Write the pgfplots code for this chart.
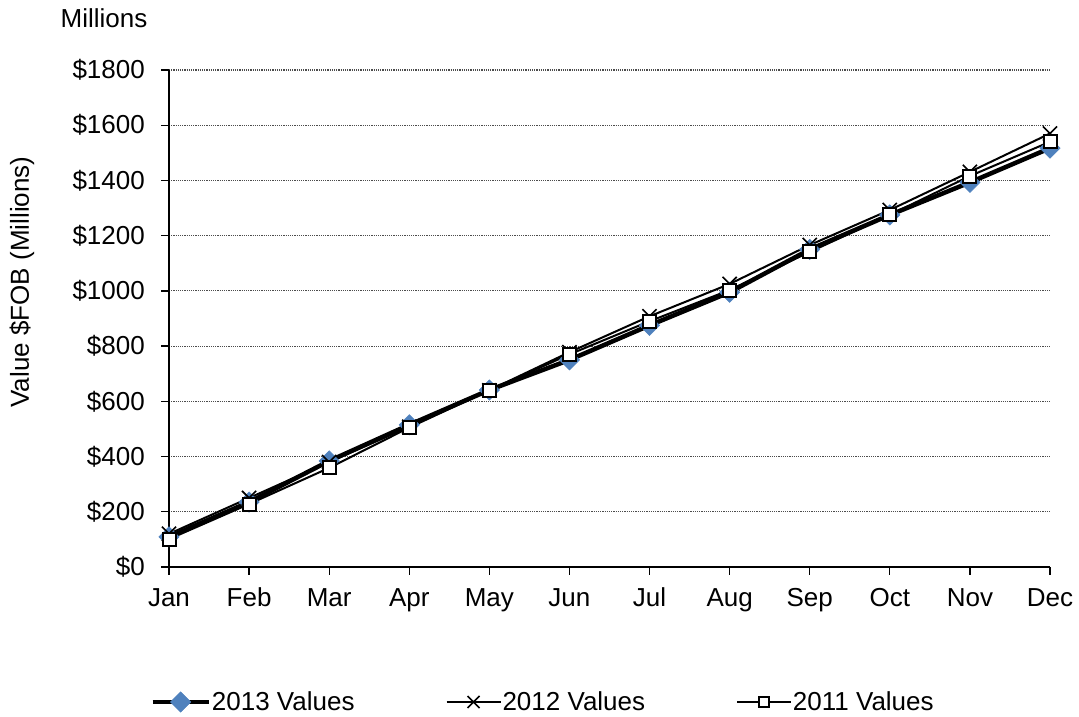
\documentclass[border=0pt]{standalone}
\usepackage{pgfplots}
\pgfplotsset{compat=1.18}
\usepackage{fontspec}
\setmainfont{Liberation Sans}
\definecolor{diamondblue}{HTML}{4F81BD}
\begin{document}
\begin{tikzpicture}[x=1pt,y=1pt]
\useasboundingbox (0,0) rectangle (1079,717);
\begin{axis}[
  at={(169pt,150pt)}, anchor=south west,
  scale only axis, width=881pt, height=497pt,
  xmin=0, xmax=11, ymin=0, ymax=1800,
  xtick={0,...,11},
  xticklabels={Jan,Feb,Mar,Apr,May,Jun,Jul,Aug,Sep,Oct,Nov,Dec},
  ytick={0,200,...,1800},
  yticklabels={\$0,\$200,\$400,\$600,\$800,\$1000,\$1200,\$1400,\$1600,\$1800},
  axis x line*=bottom, axis y line*=left,
  axis line style={line width=1.3pt, black},
  tick align=outside, major tick length=8pt,
  tick style={line width=1.3pt, black},
  ymajorgrids,
  major grid style={line width=1.2pt, gray!60!black, dash pattern=on 1.2pt off 1pt},
  font=\fontsize{26}{31}\selectfont,
  tick label style={font=\fontsize{26}{31}\selectfont},
  xticklabel style={anchor=north, inner sep=0pt, yshift=-12pt, text height=19pt, text depth=6pt},
  yticklabel style={anchor=east, inner sep=0pt, xshift=-16pt},
  legend columns=3,
  legend style={at={(0.424,-0.2716)}, anchor=center, draw=none, fill=none,
    font=\fontsize{26}{31}\selectfont, inner sep=0pt,
    nodes={inner sep=1pt},
    /tikz/every even column/.append style={column sep=90pt}},
  legend image code/.code={\draw[mark repeat=2,mark phase=2] plot coordinates {(0pt,0pt) (28pt,0pt) (56pt,0pt)};},
  clip=false,
]
\addplot[black, line width=4.5pt, mark=square*, mark size=7.2pt,
  mark options={rotate=45, fill=diamondblue, draw=diamondblue, line width=0.5pt}]
  coordinates {(0,109) (1,235) (2,384) (3,515) (4,641) (5,750) (6,875) (7,995) (8,1150) (9,1275) (10,1393) (11,1517)};
\addlegendentry{2013 Values}
\addplot[black, line width=2pt, mark=x, mark size=10pt, mark options={line width=1.6pt},
  legend image code/.code={\draw[mark repeat=2,mark phase=2, mark size=8.5pt] plot coordinates {(0pt,0pt) (27pt,0pt) (54pt,0pt)};}]
  coordinates {(0,120) (1,250) (2,380) (3,508) (4,640) (5,778) (6,908) (7,1025) (8,1166) (9,1293) (10,1431) (11,1570)};
\addlegendentry{2012 Values}
\addplot[black, line width=2pt, mark=square*, mark size=6.5pt, mark options={fill=white, line width=2pt},
  legend image code/.code={\draw[mark repeat=2,mark phase=2, mark size=5pt, line width=1.8pt] plot coordinates {(0pt,0pt) (27pt,0pt) (54pt,0pt)};}]
  coordinates {(0,101) (1,228) (2,359) (3,505) (4,640) (5,770) (6,890) (7,1003) (8,1141) (9,1275) (10,1416) (11,1540)};
\addlegendentry{2011 Values}
\end{axis}
\node[font=\fontsize{26}{31}\selectfont, rotate=90] at (22,435) {Value \$FOB (Millions)};
\node[font=\fontsize{26}{31}\selectfont] at (104,699) {Millions};
\end{tikzpicture}
\end{document}
